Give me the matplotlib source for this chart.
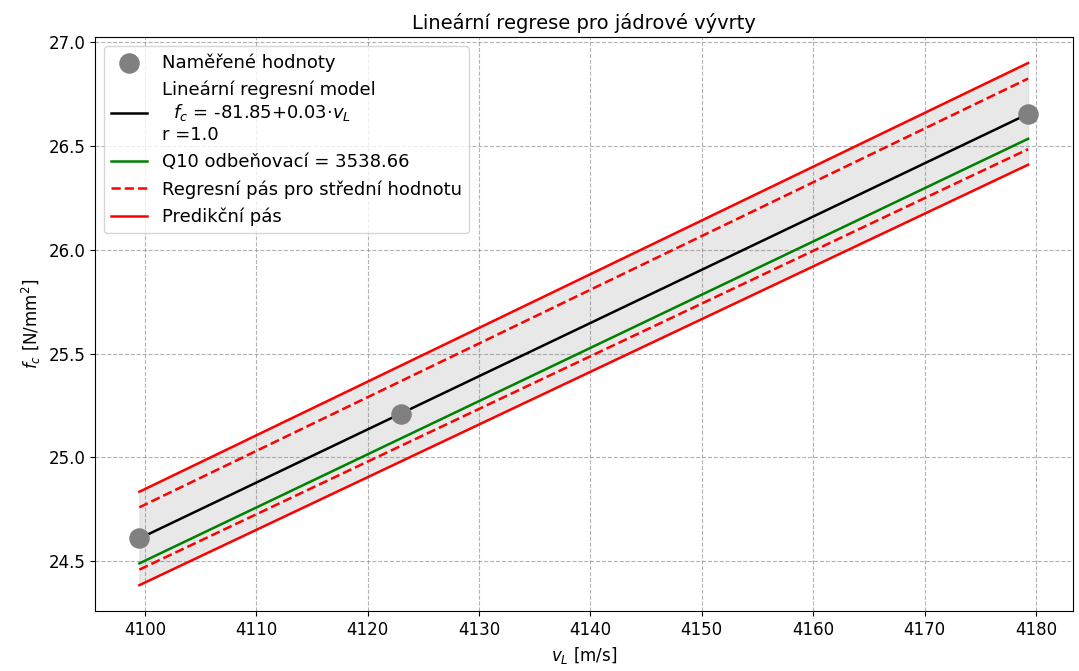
import matplotlib.pyplot as plt
import numpy as np

# measured core samples
v_L = [4099.5, 4123.0, 4179.3]
f_c = [24.61, 25.21, 26.655]

# line endpoints
x_ends = [4099.5, 4179.3]
fit_line = [24.61, 26.655]
q10_line = [24.49, 26.535]
conf_upper = [24.76, 26.825]
conf_lower = [24.46, 26.485]
pred_upper = [24.835, 26.90]
pred_lower = [24.385, 26.41]

fig = plt.figure(figsize=(10.79, 6.71), dpi=100)
ax = fig.add_axes([0.088, 0.089, 0.906, 0.856])

ax.fill_between(x_ends, pred_lower, pred_upper, color='lightgray', alpha=0.5)
ax.scatter(v_L, f_c, color='gray', s=190, zorder=5, label='Naměřené hodnoty')
ax.plot(x_ends, fit_line, color='black', lw=1.8,
        label='Lineární regresní model\n  $f_c$ = -81.85+0.03$\\cdot v_L$\nr =1.0')
ax.plot(x_ends, q10_line, color='green', lw=1.8, label='Q10 odbeňovací = 3538.66')
ax.plot(x_ends, conf_upper, color='red', ls='--', lw=1.8,
        label='Regresní pás pro střední hodnotu')
ax.plot(x_ends, conf_lower, color='red', ls='--', lw=1.8)
ax.plot(x_ends, pred_upper, color='red', lw=1.8, label='Predikční pás')
ax.plot(x_ends, pred_lower, color='red', lw=1.8)

ax.set_title('Lineární regrese pro jádrové vývrty', fontsize=14)
ax.set_xlabel('$v_L$ [m/s]', fontsize=12)
ax.set_ylabel('$f_c$ [N/mm$^2$]', fontsize=12)
ax.tick_params(labelsize=12)
ax.grid(True, ls='--', color='gray', alpha=0.6)
ax.legend(loc='upper left', fontsize=13)

plt.savefig('out.png')
